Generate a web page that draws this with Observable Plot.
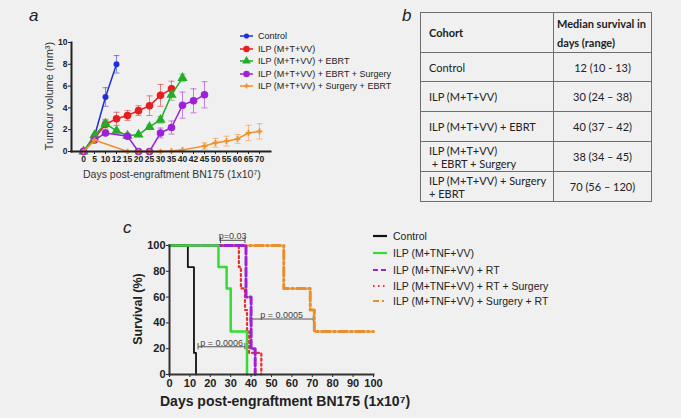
<!DOCTYPE html>
<html><head><meta charset="utf-8">
<script src="https://cdn.jsdelivr.net/npm/d3@7"></script>
<script src="https://cdn.jsdelivr.net/npm/@observablehq/plot@0.6"></script>
<style>
html,body{margin:0;padding:0;background:#f0f0f0;}
#root{position:relative;width:681px;height:418px;overflow:hidden;background:#f0f0f0;font-family:"Liberation Sans",Arial,sans-serif;color:#222;}
.pa{position:absolute;}
#tbl{position:absolute;left:420px;top:12px;border-collapse:collapse;table-layout:fixed;font-family:Lato,"Liberation Sans",sans-serif;font-size:11px;color:#222;}
#tbl td,#tbl th{border:1.5px solid #6e6e6e;padding:0 0 0 8px;text-align:left;vertical-align:middle;line-height:13px;white-space:pre;}
#tbl th{font-weight:bold;}
#tbl th.c2{line-height:19px;padding-left:3px;}
#tbl td.c2{text-align:center;padding:0;}
#overlay{position:absolute;left:0;top:0;}
</style></head><body><div id="root"></div>
<script>
// ---------- Panel a data: tumour volume (mm3), mean and error ----------
const tumourDays = [0,5,10,12,15,20,25,30,35,40,42,45,50,55,60,65,70];
const tumourGroups = ["Control","ILP (M+T+VV)","ILP (M+T+VV) + EBRT","ILP (M+T+VV) + EBRT + Surgery","ILP (M+T+VV) + Surgery + EBRT"];
const tumourColors = ["#1f2fd8","#e61e1e","#22ad2a","#9b22d8","#f0902c"];

const controlDays = [0,5,10,12];
const controlMean = [0,1.4,5.0,8.0];
const controlErr  = [0,0.15,0.85,0.8];

const ilpDays = [0,5,10,12,15,20,25,30,35];
const ilpMean = [0,1.2,2.5,3.0,3.3,3.75,4.2,5.15,5.75];
const ilpErr  = [0,0.1,0.45,0.6,0.45,0.45,0.9,1.0,0.7];

const ebrtDays = [0,5,10,12,15,20,25,30,35,40];
const ebrtMean = [0,1.5,2.55,1.9,1.45,1.55,2.25,2.9,5.2,6.75];
const ebrtErr  = [0,0.1,0.3,0.15,0.15,0.1,0.2,0.3,0.5,0.35];

const ebrtSurgDays = [0,5,10,15,20,25,30,35,40,42,45];
const ebrtSurgMean = [0,1.05,1.7,1.4,0,0,1.7,2.2,4.25,4.65,5.2];
const ebrtSurgErr  = [0,0.1,0.15,0.15,0,0,0.45,0.6,1.2,1.1,1.2];

const surgEbrtDays = [0,5,15,20,25,30,35,40,45,50,55,60,65,70];
const surgEbrtMean = [0,1.05,0,0,0,0,0.05,0.15,0.5,0.8,0.95,1.15,1.7,1.85];
const surgEbrtErr  = [0,0,0,0,0,0,0.05,0.1,0.3,0.4,0.45,0.4,0.7,0.7];

// ---------- Panel b data: table ----------
const cohortLabels = ["Control","ILP (M+T+VV)","ILP (M+T+VV) + EBRT","ILP (M+T+VV)\n + EBRT + Surgery","ILP (M+T+VV) + Surgery\n+ EBRT"];
const medianSurvival = ["12","30","40","38","70"];
const survivalRange = ["10 - 13","24 \u2013 38","37 \u2013 42","34 \u2013 45","56 \u2013 120"];

// ---------- Panel c data: Kaplan-Meier survival (%) ----------
const survGroups = ["Control","ILP (M+TNF+VV)","ILP (M+TNF+VV) + RT","ILP (M+TNF+VV) + RT + Surgery","ILP (M+TNF+VV) + Surgery + RT"];
const survColors = ["#111111","#35dc35","#a020d8","#ee2a2a","#e8902e"];
const controlSurvDays = [0,9,12,13];
const controlSurv     = [100,83.3,16.7,0];
const ilpSurvDays = [0,24,28,30,38];
const ilpSurv     = [100,83.3,66.7,33.3,0];
const rtSurvDays = [0,37.5,40,42];
const rtSurv     = [100,60,20,0];
const rtSurgSurvDays = [0,34,35,37,38,39,45];
const rtSurgSurv     = [100,83.3,66.7,50,33.3,16.7,0];
const surgRtSurvDays = [0,56,69,71,100];
const surgRtSurv     = [100,66.7,50,33.3,33.3];

const pLabels = ["p=0.03","p = 0.0005","p = 0.0006"];
const pFrom = [25,39.5,14];
const pTo   = [37,70.5,37];
const pAt   = [104,43,21.5];

// ---------- build ----------
const root = document.getElementById("root");
const font = "'Liberation Sans', Arial, sans-serif";

// Panel a
const seriesA = [
  {days:controlDays, mean:controlMean, err:controlErr, symbol:"circle", r:3},
  {days:ilpDays, mean:ilpMean, err:ilpErr, symbol:"circle", r:3.8},
  {days:ebrtDays, mean:ebrtMean, err:ebrtErr, symbol:"triangle", r:3.8},
  {days:ebrtSurgDays, mean:ebrtSurgMean, err:ebrtSurgErr, symbol:"circle", r:3.8},
  {days:surgEbrtDays, mean:surgEbrtMean, err:surgEbrtErr, symbol:"cross", r:2.4}
];
const cap = {draw(ctx){ ctx.moveTo(-3,0); ctx.lineTo(3,0); }};
const marksA = [];
seriesA.forEach((s,i)=>{
  const color = tumourColors[i];
  const rows = s.days.map((d,j)=>({day:d, mean:s.mean[j], err:s.err[j]}));
  const eb = rows.filter(r=>r.err>0.12);
  marksA.push(Plot.ruleX(eb,{x:"day", y1:d=>d.mean-d.err, y2:d=>d.mean+d.err, stroke:color, strokeOpacity:0.55, strokeWidth:1}));
  marksA.push(Plot.dot(eb,{x:"day", y:d=>d.mean+d.err, symbol:cap, stroke:color, strokeOpacity:0.55, strokeWidth:1}));
  marksA.push(Plot.dot(eb,{x:"day", y:d=>d.mean-d.err, symbol:cap, stroke:color, strokeOpacity:0.55, strokeWidth:1}));
});
seriesA.forEach((s,i)=>{
  const color = tumourColors[i];
  const rows = s.days.map((d,j)=>({day:d, mean:s.mean[j]}));
  marksA.push(Plot.line(rows,{x:"day", y:"mean", stroke:color, strokeWidth:1.5}));
  marksA.push(Plot.dot(rows,{x:"day", y:"mean", fill:color, symbol:s.symbol, r:s.r}));
});

const plotA = Plot.plot({
  width:300, height:190, marginLeft:71, marginRight:30, marginTop:42, marginBottom:39,
  style:{background:"transparent", fontFamily:font, fontSize:"8.5px", color:"#222", overflow:"visible"},
  x:{type:"point", domain:tumourDays, padding:0, insetLeft:5, insetRight:5},
  y:{domain:[0,10]},
  marks:[
    Plot.axisX({tickSize:3, tickPadding:1, fontWeight:"bold", label:null}),
    Plot.axisY({ticks:[0,2,4,6,8,10], tickSize:3, tickPadding:1, fontWeight:"bold", label:null}),
    ...marksA,
    Plot.frame({anchor:"left", stroke:"#222", strokeWidth:2}),
    Plot.frame({anchor:"bottom", stroke:"#222", strokeWidth:2})
  ]
});
const divA = document.createElement("div");
divA.className = "pa"; divA.style.left = "0px"; divA.style.top = "0px";
divA.appendChild(plotA); root.appendChild(divA);

// Panel c
const survSeries = [
  {days:controlSurvDays, surv:controlSurv, width:1.8, dash:null},
  {days:ilpSurvDays, surv:ilpSurv, width:2.5, dash:null},
  {days:rtSurvDays, surv:rtSurv, width:3, dash:"8,3"},
  {days:rtSurgSurvDays, surv:rtSurgSurv, width:2.2, dash:"2,3"},
  {days:surgRtSurvDays, surv:surgRtSurv, width:3, dash:"9,3,2,3"}
];
const drawOrder = [3,4,2,0,1];
const marksC = drawOrder.map(i=>{
  const s = survSeries[i];
  const rows = s.days.map((d,j)=>({day:d, surv:s.surv[j]}));
  const opts = {x:"day", y:"surv", curve:"step-after", stroke:survColors[i], strokeWidth:s.width};
  if (s.dash) opts.strokeDasharray = s.dash;
  return Plot.line(rows, opts);
});
const pRows = pLabels.map((l,i)=>({label:l, from:pFrom[i], to:pTo[i], at:pAt[i]}));
const plotC = Plot.plot({
  width:300, height:198, marginLeft:69, marginRight:27, marginTop:25, marginBottom:44,
  style:{background:"transparent", fontFamily:font, fontSize:"11px", color:"#222", overflow:"visible"},
  x:{domain:[0,100]},
  y:{domain:[0,100]},
  marks:[
    Plot.axisX({ticks:d3.range(0,101,10), tickSize:3, tickPadding:2, fontWeight:"bold", label:null}),
    Plot.axisY({ticks:d3.range(0,101,20), tickSize:3, tickPadding:1, fontWeight:"bold", label:null}),
    Plot.link(pRows,{x1:"from", x2:"to", y1:"at", y2:"at", stroke:"#555", strokeWidth:1}),
    Plot.ruleX(pRows,{x:"from", y1:d=>d.at-2.5, y2:d=>d.at+2.5, stroke:"#555", strokeWidth:1}),
    Plot.ruleX(pRows,{x:"to", y1:d=>d.at-2.5, y2:d=>d.at+2.5, stroke:"#555", strokeWidth:1}),
    Plot.text(pRows,{x:d=>(d.from+d.to)/2, y:"at", text:"label", lineAnchor:"bottom", dy:-1, fontSize:9, fill:"#444"}),
    ...marksC,
    Plot.frame({anchor:"left", stroke:"#333", strokeWidth:2}),
    Plot.frame({anchor:"bottom", stroke:"#333", strokeWidth:2})
  ]
});
const divC = document.createElement("div");
divC.className = "pa"; divC.style.left = "100px"; divC.style.top = "220px";
divC.appendChild(plotC); root.appendChild(divC);

// Panel b table
const tbl = document.createElement("table");
tbl.id = "tbl";
const colg = document.createElement("colgroup");
colg.innerHTML = '<col style="width:133px"><col style="width:98px">';
tbl.appendChild(colg);
const hr = tbl.insertRow();
hr.style.height = "40px";
const h1 = document.createElement("th"); h1.textContent = "Cohort"; hr.appendChild(h1);
const h2 = document.createElement("th"); h2.className = "c2"; h2.innerHTML = "Median survival in<br>days (range)"; hr.appendChild(h2);
cohortLabels.forEach((c,i)=>{
  const r = tbl.insertRow();
  r.style.height = (i===0 ? 29 : 30) + "px";
  const a = r.insertCell(); a.textContent = c;
  const b = r.insertCell(); b.className = "c2"; b.textContent = medianSurvival[i] + " (" + survivalRange[i] + ")";
});
root.appendChild(tbl);

// Overlay: panel letters, axis titles, legends
const ov = d3.select(root).append("svg").attr("id","overlay").attr("width",681).attr("height",418)
  .style("font-family", font);
ov.append("text").attr("x",29).attr("y",21).attr("font-size",17).attr("font-style","italic").attr("fill","#222").text("a");
ov.append("text").attr("x",402).attr("y",21).attr("font-size",17).attr("font-style","italic").attr("fill","#222").text("b");
ov.append("text").attr("x",123).attr("y",233).attr("font-size",17).attr("font-style","italic").attr("fill","#222").text("c");

ov.append("text").attr("transform","translate(49,96) rotate(-90)").attr("text-anchor","middle").attr("dy","0.35em")
  .attr("font-size",11).attr("fill","#333").text("Tumour volume (mm\u00B3)");
ov.append("text").attr("x",83).attr("y",178).attr("font-size",10.5).attr("fill","#333").text("Days post-engraftment BN175 (1x10\u2077)");

ov.append("text").attr("transform","translate(138,309) rotate(-90)").attr("text-anchor","middle").attr("dy","0.35em")
  .attr("font-size",12.5).attr("font-weight","bold").attr("fill","#222").text("Survival (%)");
ov.append("text").attr("x",160).attr("y",406).attr("font-size",14).attr("font-weight","bold").attr("fill","#222").text("Days post-engraftment BN175 (1x10\u2077)");

// legend a
const legAy = [36,49,61,74,86];
const symMap = {circle:d3.symbolCircle, triangle:d3.symbolTriangle, cross:d3.symbolCross};
tumourGroups.forEach((g,i)=>{
  const y = legAy[i];
  ov.append("line").attr("x1",240).attr("x2",253).attr("y1",y).attr("y2",y).attr("stroke",tumourColors[i]).attr("stroke-width",1.5);
  const s = seriesA[i];
  ov.append("path").attr("transform",`translate(246.5,${y})`).attr("d", d3.symbol(symMap[s.symbol], Math.PI*Math.pow(s.r*0.85,2))()).attr("fill",tumourColors[i]);
  ov.append("text").attr("x",258).attr("y",y+3.2).attr("font-size",9).attr("fill","#222").text(g);
});
// legend c
const legCy = [236,253,270,286,301];
survGroups.forEach((g,i)=>{
  const y = legCy[i];
  const ln = ov.append("line").attr("x1",373).attr("x2",387).attr("y1",y).attr("y2",y).attr("stroke",survColors[i]).attr("stroke-width",2.2);
  if (i===2) ln.attr("stroke-dasharray","5,3");
  if (i===3) ln.attr("stroke-dasharray","1.5,3.5");
  if (i===4) ln.attr("stroke-dasharray","6,3,2,3");
  ov.append("text").attr("x",393).attr("y",y+3.8).attr("font-size",10.5).attr("fill","#222").text(g);
});
</script></body></html>
